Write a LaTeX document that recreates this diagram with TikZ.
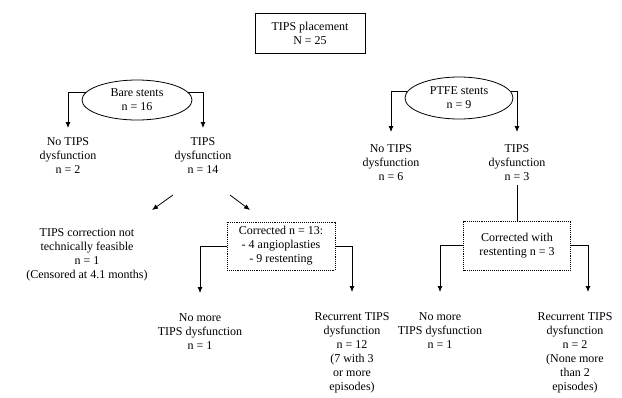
\documentclass[tikz,border=0pt]{standalone}
\usepackage{fontspec}
\setmainfont{Liberation Serif}
\usetikzlibrary{shapes.geometric,arrows.meta}
\begin{document}
\begin{tikzpicture}[x=1pt,y=-1pt,
  every node/.style={font=\fontsize{12}{14}\selectfont, align=center},
  lbl/.style={inner sep=0pt, anchor=north},
  oval/.style={ellipse, draw, line width=0.8pt, inner sep=0pt},
  sbox/.style={rectangle, draw, line width=0.8pt, inner sep=0pt},
  dbox/.style={rectangle, draw, densely dotted, line width=0.9pt, inner sep=0pt},
  conn/.style={line width=0.8pt},
  arr/.style={conn, -{Latex[length=6pt,width=5pt]}}]
\useasboundingbox (0,0) rectangle (622,397);
\fill[white] (0,0) rectangle (622,397);

% top
\node[sbox, minimum width=110pt, minimum height=40pt] (top) at (310,33) {TIPS placement\\N = 25};

% ellipses
\node[oval, minimum width=110pt, minimum height=40pt] (bare) at (137,100) {Bare stents\\n = 16};
\node[oval, minimum width=108pt, minimum height=42pt] (ptfe) at (459,98) {PTFE stents\\n = 9};

% second level
\node[lbl] (nob) at (68,137) {No TIPS\\dysfunction\\n = 2};
\node[lbl] (tdb) at (203,137) {TIPS\\dysfunction\\n = 14};
\node[lbl] (nop) at (391,144) {No TIPS\\dysfunction\\n = 6};
\node[lbl] (tdp) at (517,144) {TIPS\\dysfunction\\n = 3};

\draw[arr, shorten >=9pt] (bare.171) -| (nob.north);
\draw[arr, shorten >=9pt] (bare.9) -| (tdb.north);
\draw[arr, shorten >=12pt] (ptfe.173) -| (nop.north);
\draw[arr, shorten >=12pt] (ptfe.7) -| (tdp.north);

% third level (bare)
\node[lbl] (notf) at (87,228) {TIPS correction not\\technically feasible\\n = 1\\(Censored at 4.1 months)};
\node[dbox, minimum width=108pt, minimum height=48pt] (corrb) at (281,246) {Corrected n = 13:\\- 4 angioplasties\\- 9 restenting};

\coordinate (d1a) at (173,195);
\coordinate (d1b) at (152,210);
\coordinate (d2a) at (230,195);
\coordinate (d2b) at (250,210);
\draw[arr] (d1a) -- (d1b);
\draw[arr] (d2a) -- (d2b);

% third level (ptfe)
\node[dbox, minimum width=107pt, minimum height=49pt] (corrp) at (517,245.5) {Corrected with\\restenting n = 3};
\draw[conn, shorten <=5pt] (tdp.south) -- (corrp.north);

% bottom
\node[lbl] (nm1) at (200,313) {No more\\TIPS dysfunction\\n = 1};
\node[lbl] (rec1) at (352,312) {Recurrent TIPS\\dysfunction\\n = 12\\(7 with 3\\or more\\episodes)};
\node[lbl] (nm2) at (440,312) {No more\\TIPS dysfunction\\n = 1};
\node[lbl] (rec2) at (575,312) {Recurrent TIPS\\dysfunction\\n = 2\\(None more\\than 2\\episodes)};

\draw[arr, shorten >=20pt] (corrb.west) -| (nm1.north);
\draw[arr, shorten >=20pt] (corrb.east) -| (rec1.north);
\draw[arr, shorten >=20pt] (corrp.west) -| (nm2.north);
\draw[arr, shorten >=20pt] (corrp.east) -| ([xshift=13pt]rec2.north);
\end{tikzpicture}
\end{document}
